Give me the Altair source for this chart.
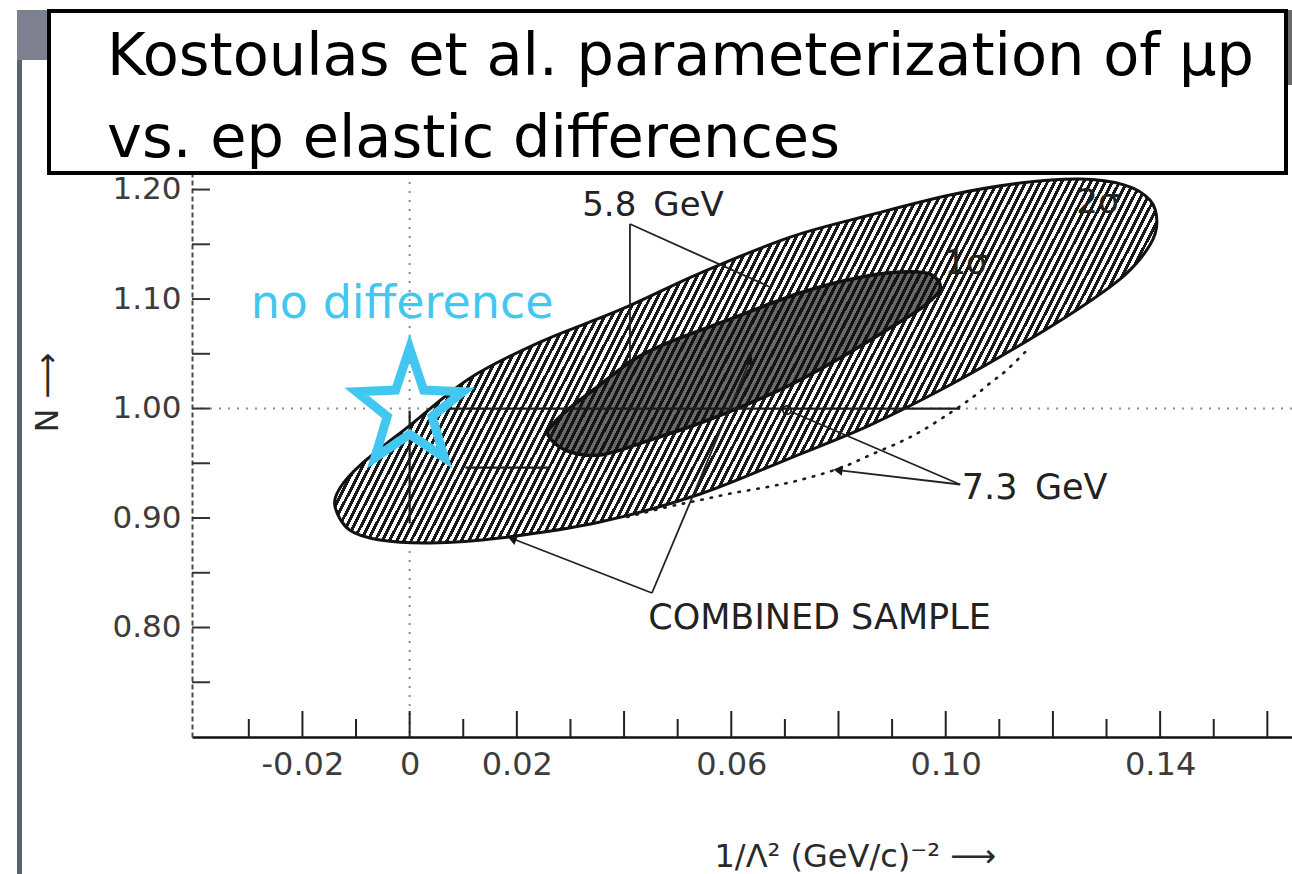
import altair as alt
import pandas as pd

# ---------------------------------------------------------------- data
# Axis tick labels and tick positions
X_LABELS = [-0.02, 0.0, 0.02, 0.06, 0.10, 0.14]
X_MAJOR = [-0.02, 0.0, 0.02, 0.04, 0.06, 0.08, 0.10, 0.12, 0.14, 0.16]
X_MINOR = [-0.03, -0.01, 0.01, 0.03, 0.05, 0.07, 0.09, 0.11, 0.13, 0.15]
Y_LABELS = [0.80, 0.90, 1.00, 1.10, 1.20]
Y_TICKS = [0.75, 0.80, 0.85, 0.90, 0.95, 1.00, 1.05, 1.10, 1.15, 1.20]

# 2-sigma contour of the combined sample (boundary, in order)
SIG2_X = [-0.0139, -0.0112, -0.0055, 0.0038, 0.0168, 0.0355, 0.0542, 0.0710,
          0.0859, 0.1008, 0.1139, 0.1250, 0.1334, 0.1381, 0.1394, 0.1381,
          0.1334, 0.1250, 0.1139, 0.1008, 0.0859, 0.0710, 0.0542, 0.0392,
          0.0243, 0.0113, 0.0001, -0.0092, -0.0130]
SIG2_Y = [0.9100, 0.8890, 0.8799, 0.8772, 0.8817, 0.8963, 0.9219, 0.9548,
          0.9849, 1.0215, 1.0580, 1.0918, 1.1219, 1.1493, 1.1703, 1.1904,
          1.2041, 1.2096, 1.2059, 1.1950, 1.1767, 1.1566, 1.1237, 1.0900,
          1.0607, 1.0279, 0.9849, 0.9484, 0.9274]

# 1-sigma contour of the combined sample
SIG1_X = [0.0258, 0.0290, 0.0355, 0.0448, 0.0542, 0.0635, 0.0710, 0.0803,
          0.0896, 0.0962, 0.0990, 0.0971, 0.0915, 0.0834, 0.0728, 0.0603,
          0.0480, 0.0417, 0.0355, 0.0294, 0.0266]
SIG1_Y = [0.9758, 0.9621, 0.9575, 0.9712, 0.9868, 1.0050, 1.0215, 1.0461,
          1.0735, 1.0945, 1.1100, 1.1228, 1.1247, 1.1192, 1.1055, 1.0826,
          1.0598, 1.0443, 1.0215, 0.9986, 0.9849]

# 7.3 GeV contour (part lying outside the hatched region)
DOT73_X = [0.0406, 0.0480, 0.0542, 0.0603, 0.0667, 0.0728, 0.0803, 0.0859,
           0.0915, 0.0958, 0.1008, 0.1051, 0.1083, 0.1114, 0.1152]
DOT73_Y = [0.9009, 0.9100, 0.9164, 0.9228, 0.9283, 0.9347, 0.9456, 0.9575,
           0.9694, 0.9804, 0.9959, 1.0105, 1.0233, 1.0352, 1.0534]

# 7.3 GeV best-fit point
PT73_X = [0.0704]
PT73_Y = [0.9986]

# "no difference" point
NODIFF_X = [0.0]
NODIFF_Y = [1.0]

# reference lines through the no-difference point
CROSS_X = [0.0]
CROSS_Y = [1.0]
# solid parts of those lines (x, y, x2, y2)
CROSS_SEG = [(0.0, 0.998, 0.0, 0.895),
             (0.0057, 1.0, 0.1027, 1.0),
             (0.0104, 0.946, 0.0262, 0.946)]

# leader lines of the annotations (x, y, x2, y2)
LEAD_58 = [(0.0411, 1.1685, 0.0411, 1.0397), (0.0411, 1.1685, 0.0672, 1.1110)]
LEAD_73 = [(0.1027, 0.9306, 0.0799, 0.9438), (0.1027, 0.9306, 0.0713, 0.9968)]
LEAD_CS = [(0.0452, 0.8315, 0.0191, 0.8813), (0.0452, 0.8315, 0.0635, 1.0443)]

# annotation texts and anchors
LAB_CENTER = ["5.8\u2002GeV", "1σ", "2σ"]
LAB_CENTER_X = [0.0454, 0.1038, 0.1284]
LAB_CENTER_Y = [1.1849, 1.1319, 1.1877]
LAB_LEFT = ["7.3\u2002GeV", "COMBINED SAMPLE"]
LAB_LEFT_X = [0.1030, 0.0445]
LAB_LEFT_Y = [0.9274, 0.8087]
NODIFF_TEXT = ["no difference"]
NODIFF_TEXT_X = [-0.0014]
NODIFF_TEXT_Y = [1.0826]

TITLE = ["Kostoulas et al. parameterization of μp", "vs. ep elastic differences"]
X_TITLE = "1/Λ² (GeV/c)⁻² ⟶"
Y_TITLE = "N ⟶"

# ---------------------------------------------------------------- style
FONT = "DejaVu Sans"
INK = "#1c1c1c"
CYAN = "#42c8f0"

XS = alt.Scale(domain=[-0.0406, 0.1646], nice=False, zero=False)
YS = alt.Scale(domain=[0.70, 1.248], nice=False, zero=False)

X_AXIS = alt.Axis(
    values=X_LABELS,
    labelExpr="datum.value == 0 ? '0' : replace(format(datum.value, '.2f'), '\u2212', '-')",
    ticks=False, grid=False, domainColor="#111111", domainWidth=2.5,
    labelFont=FONT, labelFontSize=32, labelColor="#3c3c3c", labelPadding=12,
    labelFlush=False, labelOverlap=False,
    title=X_TITLE, titleFont=FONT, titleFontSize=32, titleFontWeight="normal",
    titleColor="#2a2a2a", titleX=522, titleY=129, titleAlign="left",
    titleBaseline="alphabetic",
)
Y_AXIS = alt.Axis(
    values=Y_LABELS, format=".2f", ticks=False, grid=False,
    domainColor="#4a4a4a", domainWidth=2, domainDash=[5, 3],
    labelFont=FONT, labelFontSize=31, labelColor="#3c3c3c", labelPadding=11,
    title=Y_TITLE, titleFont=FONT, titleFontSize=32, titleFontWeight="normal",
    titleColor="#2a2a2a", titleAngle=270, titleX=-145, titleY=255,
    titleAlign="center", titleBaseline="middle",
)


def ex(field="x"):
    return alt.X(f"{field}:Q", scale=XS, axis=X_AXIS)


def ey(field="y"):
    return alt.Y(f"{field}:Q", scale=YS, axis=Y_AXIS)


def hatch(periods, ink, paper, ink_frac, x2, y2):
    """Striped fill built from a hard-stop linear gradient."""
    stops = []
    for k in range(periods):
        a = round(k / periods, 6)
        b = round((k + ink_frac) / periods, 6)
        c = round((k + 1) / periods, 6)
        stops += [alt.GradientStop(offset=a, color=ink),
                  alt.GradientStop(offset=b, color=ink),
                  alt.GradientStop(offset=b, color=paper),
                  alt.GradientStop(offset=c, color=paper)]
    return alt.LinearGradient(gradient="linear", stops=stops,
                              x1=0, y1=0, x2=x2, y2=y2)


def contour(xs, ys):
    return pd.DataFrame({"x": xs, "y": ys, "i": range(len(xs))})


def segments(rows):
    return pd.DataFrame(rows, columns=["x", "y", "x2", "y2"])


def one_row():
    return pd.DataFrame({"k": [0]})


layers = []

# dotted reference lines through (0, 1)
layers.append(alt.Chart(pd.DataFrame({"x": CROSS_X})).mark_rule(
    color="#8c8c8c", strokeWidth=2, strokeDash=[2, 7]).encode(x=ex()))
layers.append(alt.Chart(pd.DataFrame({"y": CROSS_Y})).mark_rule(
    color="#8c8c8c", strokeWidth=2, strokeDash=[2, 7]).encode(y=ey()))

# hatched 2-sigma region
layers.append(alt.Chart(contour(SIG2_X, SIG2_Y)).mark_line(
    interpolate="cardinal-closed",
    fill=hatch(140, "#1a1a1a", "#ffffff", 0.48, 1.1663, 0.2632),
    stroke="#111111", strokeWidth=3,
).encode(x=ex(), y=ey(), order="i:Q"))

# dark 1-sigma region
layers.append(alt.Chart(contour(SIG1_X, SIG1_Y)).mark_line(
    interpolate="cardinal-closed",
    fill=hatch(68, "#141414", "#6a6a6a", 0.5, 1.1716, 0.2787),
    stroke="#111111", strokeWidth=3.5,
).encode(x=ex(), y=ey(), order="i:Q"))

# solid parts of the reference lines
layers.append(alt.Chart(segments(CROSS_SEG)).mark_rule(
    color=INK, strokeWidth=2.2).encode(x=ex(), y=ey(), x2="x2:Q", y2="y2:Q"))

# 7.3 GeV dotted contour
layers.append(alt.Chart(contour(DOT73_X, DOT73_Y)).mark_line(
    interpolate="cardinal", color=INK, strokeWidth=2.6, strokeDash=[1.5, 8],
    strokeCap="round",
).encode(x=ex(), y=ey(), order="i:Q"))

# 7.3 GeV point
layers.append(alt.Chart(pd.DataFrame({"x": PT73_X, "y": PT73_Y})).mark_point(
    shape="circle", size=70, filled=False, color=INK, strokeWidth=1.8, opacity=1,
).encode(x=ex(), y=ey()))

# leader lines
for rows in (LEAD_58, LEAD_73, LEAD_CS):
    layers.append(alt.Chart(segments(rows)).mark_rule(
        color="#222222", strokeWidth=1.8).encode(x=ex(), y=ey(), x2="x2:Q", y2="y2:Q"))


def arrowhead(row, angle):
    df = pd.DataFrame({"x": [row[2]], "y": [row[3]]})
    return alt.Chart(df).mark_point(
        shape="triangle-up", size=110, filled=True, color="#151515",
        angle=angle, opacity=1).encode(x=ex(), y=ey())


layers.append(arrowhead(LEAD_58[0], 180))
layers.append(arrowhead(LEAD_73[0], 277))
layers.append(arrowhead(LEAD_CS[0], 291))
layers.append(arrowhead(LEAD_CS[1], 23))

# annotation labels
layers.append(alt.Chart(pd.DataFrame(
    {"t": LAB_CENTER, "x": LAB_CENTER_X, "y": LAB_CENTER_Y})).mark_text(
    font=FONT, fontSize=34, color="#222222", align="center", baseline="middle",
).encode(x=ex(), y=ey(), text="t:N"))
layers.append(alt.Chart(pd.DataFrame(
    {"t": LAB_LEFT, "x": LAB_LEFT_X, "y": LAB_LEFT_Y})).mark_text(
    font=FONT, fontSize=35, color="#222222", align="left", baseline="middle",
).encode(x=ex(), y=ey(), text="t:N"))

# axis ticks, drawn inward
layers.append(alt.Chart(pd.DataFrame({"x": X_MAJOR})).mark_rule(
    color="#222222", strokeWidth=2).encode(x=ex(), y=alt.value(600), y2=alt.value(574)))
layers.append(alt.Chart(pd.DataFrame({"x": X_MINOR})).mark_rule(
    color="#222222", strokeWidth=2).encode(x=ex(), y=alt.value(600), y2=alt.value(582)))
layers.append(alt.Chart(pd.DataFrame({"y": Y_TICKS})).mark_rule(
    color="#333333", strokeWidth=2).encode(y=ey(), x=alt.value(0), x2=alt.value(18)))

# "no difference" marker
STAR = ("M0,-1.08L0.25,-0.33L0.95,-0.30L0.40,0.14L0.62,0.88L0,0.46"
        "L-0.62,0.88L-0.40,0.14L-0.95,-0.30L-0.25,-0.33Z")
layers.append(alt.Chart(pd.DataFrame({"x": NODIFF_X, "y": NODIFF_Y})).mark_point(
    shape=STAR, size=12544, filled=False, color=CYAN, strokeWidth=9, opacity=1,
    strokeJoin="miter",
).encode(x=ex(), y=ey()))
layers.append(alt.Chart(pd.DataFrame(
    {"t": NODIFF_TEXT, "x": NODIFF_TEXT_X, "y": NODIFF_TEXT_Y})).mark_text(
    font=FONT, fontSize=46, color=CYAN, align="center", baseline="alphabetic",
).encode(x=ex(), y=ey(), text="t:N"))

# slide frame: grey edge strips
layers.append(alt.Chart(one_row()).mark_rect(color="#7c8090").encode(
    x=alt.value(-175), x2=alt.value(-145), y=alt.value(-127), y2=alt.value(-77)))
layers.append(alt.Chart(one_row()).mark_rect(color="#5d6174").encode(
    x=alt.value(-175), x2=alt.value(-170), y=alt.value(-77), y2=alt.value(737)))
layers.append(alt.Chart(one_row()).mark_rect(color="#6a6a6a").encode(
    x=alt.value(1096), x2=alt.value(1100), y=alt.value(-127), y2=alt.value(-52)))

# title box
layers.append(alt.Chart(one_row()).mark_rect(
    fill="white", stroke="black", strokeWidth=4).encode(
    x=alt.value(-143), x2=alt.value(1094), y=alt.value(-126), y2=alt.value(36)))
layers.append(alt.Chart(pd.DataFrame({"t": [TITLE[0]]})).mark_text(
    font=FONT, fontSize=59, color="black", align="left", baseline="alphabetic",
).encode(text="t:N", x=alt.value(-85), y=alt.value(-62)))
layers.append(alt.Chart(pd.DataFrame({"t": [TITLE[1]]})).mark_text(
    font=FONT, fontSize=59, color="black", align="left", baseline="alphabetic",
).encode(text="t:N", x=alt.value(-85), y=alt.value(20)))

chart = alt.layer(*layers).properties(
    width=1100, height=600,
    padding={"left": 192, "top": 137, "right": 0, "bottom": 137},
    autosize=alt.AutoSizeParams(type="none"),
    background="white",
).configure_view(stroke=None)

chart.save("out.html", embed_options={"renderer": "svg", "actions": False})
